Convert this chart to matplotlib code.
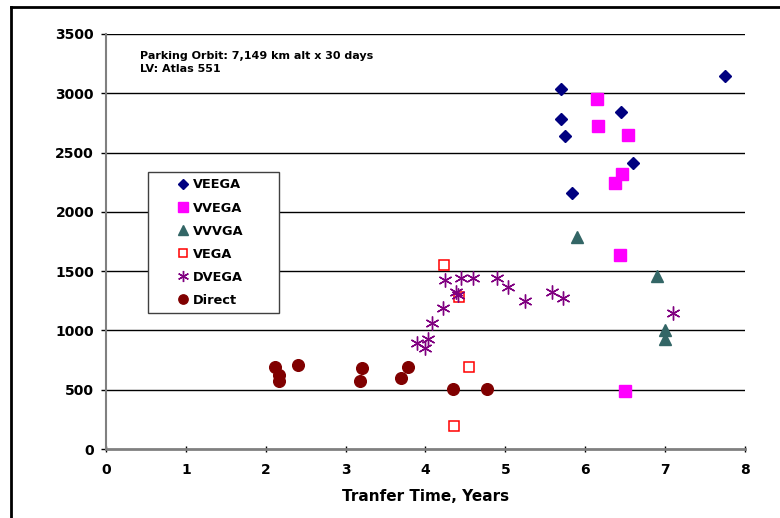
#!/usr/bin/env python3

import matplotlib
matplotlib.use('Agg')
import matplotlib.pyplot as plt
from matplotlib.lines import Line2D

# transfer time (years) and values
veega_x = [5.70, 7.75, 5.70, 5.75, 6.45, 6.60, 5.84]
veega_y = [3034, 3149, 2783, 2643, 2842, 2410, 2162]

vvega_x = [6.15, 6.16, 6.54, 6.46, 6.37, 6.44, 6.50]
vvega_y = [2955, 2727, 2651, 2322, 2246, 1633, 487]

vvvga_x = [5.90, 6.90, 7.00, 7.00]
vvvga_y = [1785, 1462, 1004, 925]

vega_x = [4.23, 4.42, 4.54, 4.36]
vega_y = [1549, 1279, 694, 197]

dvega_x = [4.24, 4.44, 4.59, 4.90, 5.03, 5.24, 4.38, 4.41, 4.22, 4.08,
           3.89, 4.03, 3.99, 5.59, 5.72, 7.10]
dvega_y = [1425, 1440, 1445, 1445, 1369, 1248, 1320, 1300, 1186, 1060,
           891, 925, 849, 1322, 1273, 1150]

direct_x = [2.115, 2.165, 2.16, 2.41, 3.20, 3.18, 3.78, 3.69, 4.34, 4.77]
direct_y = [689, 627, 576, 706, 683, 576, 694, 601, 509, 509]

xticks = [0, 1, 2, 3, 4, 5, 6, 7, 8]
yticks = [0, 500, 1000, 1500, 2000, 2500, 3000, 3500]

plt.rcParams['font.family'] = ['DejaVu Sans']
plt.rcParams['font.weight'] = 'bold'

fig = plt.figure(figsize=(7.8, 5.18), dpi=100)
ax = fig.add_axes([0.1359, 0.1332, 0.8192, 0.8012])

ax.plot(veega_x, veega_y, linestyle='none', marker='D', ms=6.2,
        color='#000080', label='VEEGA', zorder=3)
ax.plot(vvega_x, vvega_y, linestyle='none', marker='s', ms=8.4,
        color='#FF00FF', label='VVEGA', zorder=3)
ax.plot(vvvga_x, vvvga_y, linestyle='none', marker='^', ms=9,
        color='#336666', label='VVVGA', zorder=3)
ax.plot(vega_x, vega_y, linestyle='none', marker='s', ms=7.6,
        markerfacecolor='none', markeredgecolor='#FF0000', mew=1.1,
        label='VEGA', zorder=3)
ax.plot(dvega_x, dvega_y, linestyle='none', marker=(6, 2, 0), ms=10,
        color='#800080', mew=1.0, label='DVEGA', zorder=3)
ax.plot(direct_x, direct_y, linestyle='none', marker='o', ms=8.4,
        color='#800000', label='Direct', zorder=3)

ax.set_xlim(0, 8)
ax.set_ylim(0, 3500)
ax.set_xticks(xticks)
ax.set_yticks(yticks)
ax.set_xticklabels([str(t) for t in xticks], fontsize=10, fontweight='bold')
ax.set_yticklabels([str(t) for t in yticks], fontsize=10, fontweight='bold')

for t in yticks[1:]:
    ax.axhline(t, color='black', lw=1.0, zorder=1)

for s in ['top', 'right']:
    ax.spines[s].set_visible(False)
ax.spines['left'].set_color('#808080')
ax.spines['bottom'].set_color('#808080')
ax.spines['left'].set_linewidth(1.5)
ax.spines['bottom'].set_linewidth(2)
ax.tick_params(axis='x', direction='inout', length=4.5, width=1, color='black', pad=8)
ax.tick_params(axis='y', direction='out', length=3.6, width=1, color='black', pad=5)

ax.set_xlabel('Tranfer Time, Years', fontsize=11, fontweight='bold', labelpad=8.5)

ax.text(0.053, 0.958, 'Parking Orbit: 7,149 km alt x 30 days\nLV: Atlas 551',
        transform=ax.transAxes, fontsize=8, fontweight='bold',
        va='top', ha='left', linespacing=1.3)

# legend box: fixed width via mode='expand', marker sits just left of the text
leg = ax.legend(loc='upper left',
                bbox_to_anchor=(148 / 780, 1 - 313 / 518, 131 / 780, 141 / 518),
                bbox_transform=fig.transFigure, borderaxespad=0, mode='expand',
                fancybox=False, framealpha=1, edgecolor='#404040',
                prop={'size': 9.3, 'weight': 'bold'}, handlelength=4.42,
                handletextpad=-1.43, labelspacing=0.78, borderpad=0.5,
                numpoints=1)
leg.get_frame().set_linewidth(1.0)
leg.set_zorder(5)
for h in leg.legend_handles:
    h.set_markersize(h.get_markersize() * 0.8)

# outer frame lines (left and top)
fig.add_artist(Line2D([0.0141, 0.0141], [0, 0.986], transform=fig.transFigure,
                      color='black', lw=2))
fig.add_artist(Line2D([0.0141, 1.0], [0.986, 0.986], transform=fig.transFigure,
                      color='black', lw=2))

plt.savefig('out.png', dpi=100)
